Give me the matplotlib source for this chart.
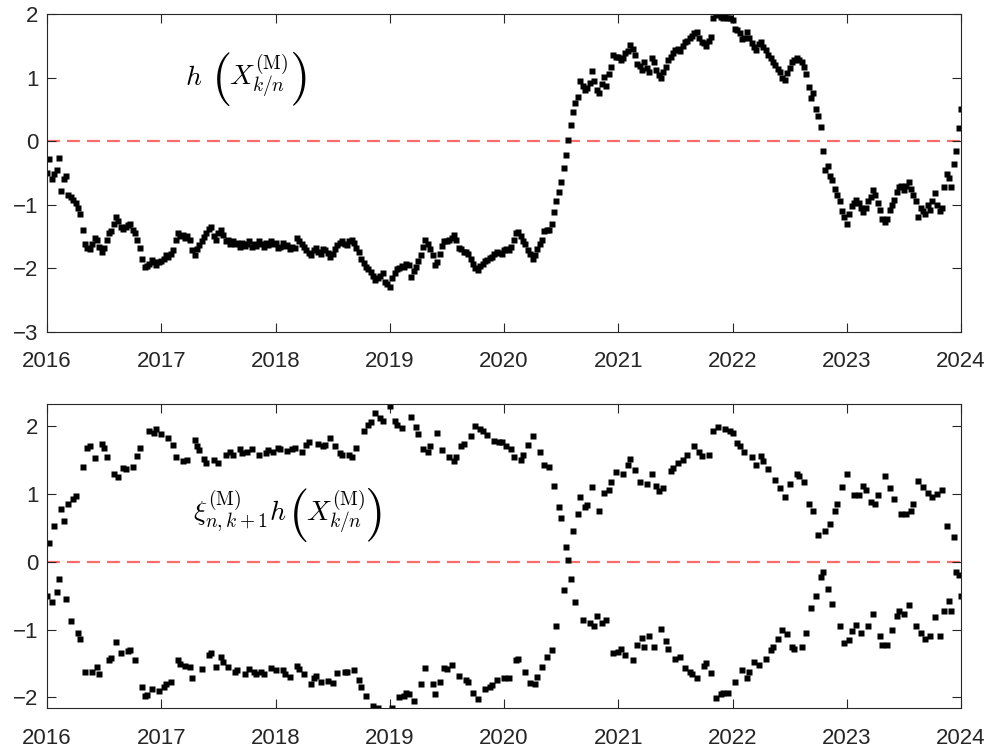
import numpy as np
import matplotlib
matplotlib.use("Agg")
import matplotlib.pyplot as plt

plt.rcParams["font.family"] = ["Liberation Sans", "DejaVu Sans"]
plt.rcParams["mathtext.fontset"] = "cm"

# h(X_{k/n}), 48 samples per year
h_2016 = [-0.50, -0.28, -0.60, -0.52, -0.45, -0.26, -0.78, -0.60, -0.55, -0.85, -0.88, -0.93,
          -0.97, -1.05, -1.14, -1.40, -1.62, -1.68, -1.70, -1.62, -1.53, -1.55, -1.66, -1.74,
          -1.68, -1.55, -1.45, -1.42, -1.30, -1.19, -1.25, -1.35, -1.38, -1.36, -1.32, -1.30,
          -1.40, -1.45, -1.56, -1.68, -1.85, -1.98, -1.96, -1.93, -1.87, -1.90, -1.95, -1.90]
h_2017 = [-1.88, -1.85, -1.80, -1.83, -1.77, -1.72, -1.55, -1.45, -1.50, -1.48, -1.53, -1.50,
          -1.55, -1.72, -1.80, -1.70, -1.64, -1.58, -1.51, -1.45, -1.38, -1.35, -1.50, -1.55,
          -1.45, -1.40, -1.48, -1.57, -1.55, -1.62, -1.58, -1.62, -1.60, -1.66, -1.60, -1.65,
          -1.62, -1.58, -1.66, -1.62, -1.65, -1.58, -1.62, -1.66, -1.60, -1.64, -1.57, -1.62]
h_2018 = [-1.60, -1.68, -1.66, -1.60, -1.65, -1.63, -1.70, -1.66, -1.68, -1.53, -1.58, -1.62,
          -1.66, -1.72, -1.76, -1.80, -1.72, -1.68, -1.74, -1.77, -1.70, -1.72, -1.76, -1.82,
          -1.78, -1.70, -1.64, -1.60, -1.57, -1.62, -1.63, -1.58, -1.55, -1.60, -1.68, -1.75,
          -1.85, -1.92, -1.98, -2.02, -2.06, -2.12, -2.19, -2.16, -2.12, -2.08, -2.21, -2.25]
h_2019 = [-2.29, -2.15, -2.08, -2.02, -2.00, -1.97, -1.98, -1.93, -1.95, -2.14, -2.05, -1.98,
          -1.88, -1.80, -1.66, -1.56, -1.62, -1.70, -1.80, -1.95, -1.90, -1.77, -1.65, -1.57,
          -1.58, -1.55, -1.52, -1.48, -1.55, -1.68, -1.70, -1.74, -1.75, -1.77, -1.85, -1.93,
          -2.00, -2.03, -1.96, -1.93, -1.88, -1.87, -1.84, -1.82, -1.78, -1.74, -1.76, -1.77]
h_2020 = [-1.72, -1.70, -1.72, -1.66, -1.55, -1.45, -1.43, -1.50, -1.58, -1.62, -1.72, -1.78,
          -1.85, -1.80, -1.70, -1.62, -1.55, -1.42, -1.40, -1.40, -1.30, -1.12, -0.95, -0.80,
          -0.65, -0.42, -0.22, 0.02, 0.25, 0.45, 0.60, 0.70, 0.95, 0.86, 0.80, 0.84,
          0.91, 1.10, 0.95, 0.80, 0.75, 0.90, 1.01, 0.86, 1.05, 1.17, 1.35, 1.32]
h_2021 = [1.33, 1.28, 1.30, 1.38, 1.42, 1.51, 1.45, 1.35, 1.22, 1.18, 1.12, 1.25,
          1.15, 1.09, 1.30, 1.25, 1.12, 1.04, 0.99, 1.08, 1.17, 1.28, 1.33, 1.38,
          1.43, 1.45, 1.41, 1.50, 1.56, 1.58, 1.62, 1.66, 1.70, 1.72, 1.62, 1.56,
          1.54, 1.49, 1.58, 1.64, 1.93, 2.01, 1.98, 1.95, 1.93, 1.96, 1.94, 1.93]
h_2022 = [1.90, 1.77, 1.75, 1.70, 1.60, 1.62, 1.72, 1.62, 1.54, 1.48, 1.43, 1.52,
          1.56, 1.48, 1.43, 1.36, 1.30, 1.25, 1.20, 1.14, 1.09, 1.00, 0.96, 1.07,
          1.15, 1.25, 1.28, 1.30, 1.27, 1.25, 1.17, 1.05, 0.85, 0.68, 0.75, 0.50,
          0.40, 0.22, -0.15, -0.45, -0.40, -0.55, -0.62, -0.75, -0.85, -0.95, -1.10, -1.20]
h_2023 = [-1.30, -1.15, -1.02, -0.98, -0.93, -0.98, -1.05, -1.11, -1.05, -0.95, -0.88, -0.77,
          -0.85, -0.98, -1.09, -1.22, -1.27, -1.22, -1.09, -1.00, -0.92, -0.80, -0.72, -0.70,
          -0.77, -0.70, -0.64, -0.75, -0.85, -0.95, -1.19, -1.05, -1.10, -1.14, -1.01, -1.09,
          -0.95, -0.82, -1.00, -1.10, -1.05, -0.72, -0.52, -0.58, -0.72, -0.36, -0.15, 0.20]
h_end = [0.50]

# signs xi_{n,k+1} ('+' = +1, '-' = -1)
xi_2016 = "+-+-++-- +-+--++- +--+-++- --++-+-+ --++-+-- +++-+--+"
xi_2017 = "-++-+--+ +-+-++-- -+--++-+ -++-+--+ +--+-+-+ +-++--+-"
xi_2018 = "+--++-+- -++-+--+ ++-+--+- +-+--++- -+-++-+- -+-+--++"
xi_2019 = "-+--+-++ +-+--+-+ --++-+-+ +-+--+-- ++-+-+-- +-++-+--"
xi_2020 = "+-+--++- -+-+-++- +-+-+-+- -+-+-+-+ +-++-+-- +-+-++-+"
xi_2021 = "--+-++-+ -+--+-+- ++-+--++ -+-+-+-- +-++--+- +-+--+-+"
xi_2022 = "+-++-+-- +-+-++-+ --+-+-+- +--++-+- +-+-+-+- +-+--+-+"
xi_2023 = "-++-+-+- -+-+--++ -+-+-++- +-+--+-+ -+-+-+-+ -+-++-+-"
xi_end = "-"

years = [2016, 2017, 2018, 2019, 2020, 2021, 2022, 2023]
h_years = [h_2016, h_2017, h_2018, h_2019, h_2020, h_2021, h_2022, h_2023]
xi_years = [xi_2016, xi_2017, xi_2018, xi_2019, xi_2020, xi_2021, xi_2022, xi_2023]

t, h, xi = [], [], []
for yr, hv, sv in zip(years, h_years, xi_years):
    sv = sv.replace(" ", "")
    n = len(hv)
    for i, (v, s) in enumerate(zip(hv, sv)):
        t.append(yr + i / n)
        h.append(v)
        xi.append(1 if s == "+" else -1)
t.append(2024.0)
h.append(h_end[0])
xi.append(1 if xi_end == "+" else -1)

t = np.array(t)
h = np.array(h)
xi = np.array(xi)

W, H = 990, 747
fig = plt.figure(figsize=(W / 100, H / 100), dpi=100)
ax1 = fig.add_axes([47 / W, (H - 331.7) / H, 914 / W, 317.7 / H])
ax2 = fig.add_axes([47 / W, (H - 708.3) / H, 914 / W, 304 / H])

axcol = "#262626"
for ax in (ax1, ax2):
    ax.axhline(0, color="#ff6b6b", lw=1.6, ls=(0, (5.8, 3.2)), zorder=1)
    ax.set_xlim(2016, 2024)
    ax.set_xticks(range(2016, 2025))
    ax.tick_params(direction="in", top=True, right=True, length=6.5, width=0.8,
                   colors=axcol, labelsize=16)
    ax.tick_params(axis="x", pad=14)
    ax.tick_params(axis="y", pad=6)
    for sp in ax.spines.values():
        sp.set_color(axcol)
        sp.set_linewidth(0.8)

ax1.plot(t, h, ls="none", marker="s", ms=4.2, mec="none", color="black", zorder=2)
ax1.set_ylim(-3, 2)
ax1.set_yticks([-3, -2, -1, 0, 1, 2])

ax2.plot(t, xi * h, ls="none", marker="s", ms=4.2, mec="none", color="black", zorder=2)
ax2.set_ylim(-2.16, 2.32)
ax2.set_yticks([-2, -1, 0, 1, 2])


def px(x, y):
    # pixel position (from the top-left corner) -> figure fraction
    return x / W, 1 - y / H


# top label: h ( X^(M)_{k/n} )
fig.text(*px(185, 85), r"$h$", fontsize=20, ha="left", va="baseline")
fig.text(*px(221, 79), r"$($", fontsize=38, ha="center", va="center")
fig.text(*px(229, 85), r"$X^{(\mathrm{M})}_{k/n}$", fontsize=20, ha="left", va="baseline")
fig.text(*px(298, 79), r"$)$", fontsize=38, ha="center", va="center")

# bottom label: xi^(M)_{n,k+1} h ( X^(M)_{k/n} )
fig.text(*px(193, 521), r"$\xi^{(\mathrm{M})}_{n,k+1}h$", fontsize=20, ha="left", va="baseline")
fig.text(*px(298, 515), r"$($", fontsize=38, ha="center", va="center")
fig.text(*px(306, 521), r"$X^{(\mathrm{M})}_{k/n}$", fontsize=20, ha="left", va="baseline")
fig.text(*px(373, 515), r"$)$", fontsize=38, ha="center", va="center")

fig.savefig("out.png", dpi=100)
